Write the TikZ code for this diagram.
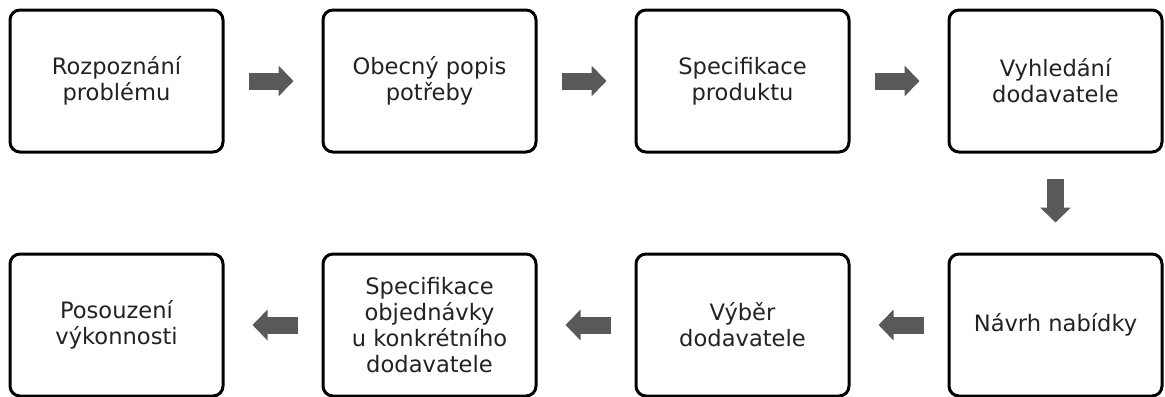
\documentclass[tikz,border=0pt]{standalone}
\usepackage{fontspec}
\setmainfont{DejaVu Sans}
\usetikzlibrary{positioning,arrows.meta}
\definecolor{arrowgray}{HTML}{595959}
\definecolor{textgray}{HTML}{222222}
\tikzset{
  stepbox/.style={draw=black, line width=1.5pt, rounded corners=5pt,
    minimum width=106.5pt, minimum height=71pt, align=center,
    text=textgray, font=\fontsize{11.3}{13}\selectfont},
  flow/.style={draw=arrowgray, line width=8.5pt,
    -{Triangle[length=7.5pt,width=15pt]}, shorten <=12pt, shorten >=14pt}
}
\begin{document}
\begin{tikzpicture}[x=0.5pt,y=-0.5pt, node distance=49.5pt and 48.5pt]
\useasboundingbox (0,0) rectangle (1165,396);
%% top row
\node[stepbox] (rozp) at (116.5,81) {Rozpoznání\\problému};
\node[stepbox, right=of rozp] (popis) {Obecný popis\\potřeby};
\node[stepbox, right=of popis] (spec) {Specifikace\\produktu};
\node[stepbox, right=of spec] (vyhl) {Vyhledání\\dodavatele};
%% bottom row
\node[stepbox, below=of vyhl] (navrh) {Návrh nabídky};
\node[stepbox, left=of navrh] (vyber) {Výběr\\dodavatele};
\node[stepbox, left=of vyber] (objed) {Specifikace\\objednávky\\u konkrétního\\dodavatele};
\node[stepbox, left=of objed] (posou) {Posouzení\\výkonnosti};
%% arrows
\draw[flow] (rozp) -- (popis);
\draw[flow] (popis) -- (spec);
\draw[flow] (spec) -- (vyhl);
\draw[flow, shorten <=12.5pt, shorten >=15pt] (vyhl) -- (navrh);
\draw[flow] (navrh) -- (vyber);
\draw[flow] (vyber) -- (objed);
\draw[flow] (objed) -- (posou);
\end{tikzpicture}
\end{document}
